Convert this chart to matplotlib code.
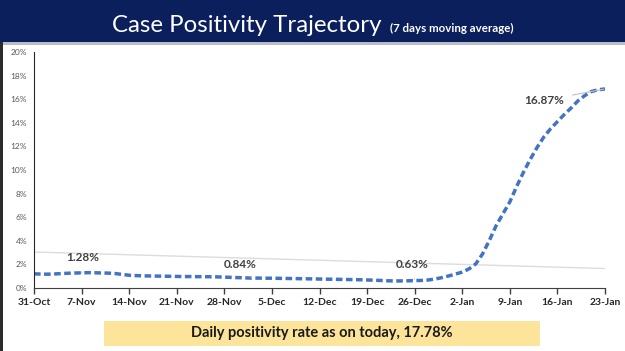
import matplotlib.pyplot as plt
from matplotlib.patches import Rectangle

# 7 day moving average of case positivity (%), daily from 31-Oct to 23-Jan
positividad = [
    1.20, 1.18, 1.17, 1.19, 1.22, 1.25, 1.27,
    1.28, 1.30, 1.29, 1.27, 1.26, 1.22, 1.15,
    1.08, 1.05, 1.03, 1.02, 1.01, 1.00, 0.99,
    0.98, 0.97, 0.97, 0.96, 0.96, 0.95, 0.94,
    0.92, 0.90, 0.88, 0.86, 0.84, 0.84, 0.83,
    0.83, 0.82, 0.81, 0.80, 0.79, 0.78, 0.77,
    0.76, 0.75, 0.74, 0.73, 0.72, 0.71, 0.70,
    0.68, 0.66, 0.64, 0.61, 0.60, 0.60, 0.61,
    0.63, 0.64, 0.68, 0.76, 0.88, 1.02, 1.18,
    1.35, 1.62, 2.05, 2.90, 4.05, 5.30, 6.30,
    7.30, 8.60, 9.80, 10.90, 11.90, 12.80, 13.50,
    14.10, 14.70, 15.25, 15.85, 16.30, 16.65, 16.80,
    16.87,
]
etiquetas_x = ["31-Oct", "7-Nov", "14-Nov", "21-Nov", "28-Nov", "5-Dec", "12-Dec",
               "19-Dec", "26-Dec", "2-Jan", "9-Jan", "16-Jan", "23-Jan"]
etiquetas_y = ["0%", "2%", "4%", "6%", "8%", "10%", "12%", "14%", "16%", "18%", "20%"]

# trend line (start / end value)
tendencia = [3.05, 1.65]

# labelled points: (day index, text)
anotaciones = [(7, "1.28%"), (32, "0.84%"), (56, "0.63%"), (84, "16.87%")]
pos_texto = [(7.2, 2.55), (30.3, 1.95), (55.7, 1.95), (75.1, 15.9)]

plt.rcParams['font.family'] = ['Lato', 'DejaVu Sans']

fig = plt.figure(figsize=(6.25, 3.51), dpi=100)
fig.patch.set_facecolor("white")

# banner del titulo
fig.patches.append(Rectangle((0, 1 - 42 / 351), 1, 42 / 351, transform=fig.transFigure,
                             facecolor="#0a1f5c", edgecolor="none", zorder=0))
fig.patches.append(Rectangle((0, 1 - 45 / 351), 1, 3 / 351, transform=fig.transFigure,
                             facecolor="#b8bcc6", edgecolor="none", zorder=0))
fig.patches.append(Rectangle((0, 0), 3 / 625, 1 - 42 / 351, transform=fig.transFigure,
                             facecolor="#2b2b2b", edgecolor="none", zorder=0))
fig.text(112 / 625, 1 - 32 / 351, "Case Positivity Trajectory", color="white",
         fontsize=17.3, va="baseline", ha="left")
fig.text(390 / 625, 1 - 32 / 351, "(7 days moving average)", color="white",
         fontsize=8.3, fontweight="bold", va="baseline", ha="left")

ax = fig.add_axes([34 / 625, 63 / 351, 571 / 625, 236 / 351])
dias = list(range(len(positividad)))

ax.plot([dias[0], dias[-1]], tendencia, color="#dcdcdc", lw=1, zorder=1)
ax.plot(dias, positividad, color="#4472c4", lw=2.5, dashes=(1.9, 1.0),
        solid_capstyle="butt", zorder=2)

for (d, txt), (tx, ty) in zip(anotaciones, pos_texto):
    ax.annotate(txt, xy=(d, positividad[d]), xytext=(tx, ty), ha="center", va="center",
                fontsize=8.5, fontweight="bold", color="#404040",
                arrowprops=dict(arrowstyle="-", color="#bfbfbf", lw=0.8, shrinkA=4, shrinkB=1))

ax.set_xlim(0, 84)
ax.set_ylim(0, 20)
ax.set_xticks(range(0, 85, 7))
ax.set_xticklabels(etiquetas_x, fontsize=7.5, fontweight="bold", color="#262626")
ax.set_yticks(range(0, 21, 2))
ax.set_yticklabels(etiquetas_y, fontsize=6, color="#595959")
ax.tick_params(axis="x", direction="out", length=4, width=1, color="#404040", pad=3)
ax.tick_params(axis="y", length=0, pad=5)
for lado in ["top", "right"]:
    ax.spines[lado].set_visible(False)
ax.spines["left"].set_color("#262626")
ax.spines["bottom"].set_color("#404040")

# recuadro inferior
fig.patches.append(Rectangle((104 / 625, 5 / 351), 436 / 625, 25 / 351, transform=fig.transFigure,
                             facecolor="#fde49b", edgecolor="none"))
fig.text(322 / 625, 17.5 / 351, "Daily positivity rate as on today, 17.78%", ha="center",
         va="center", fontsize=10.5, fontweight="bold", color="#1a1a1a")

fig.savefig("out.png", dpi=100)
